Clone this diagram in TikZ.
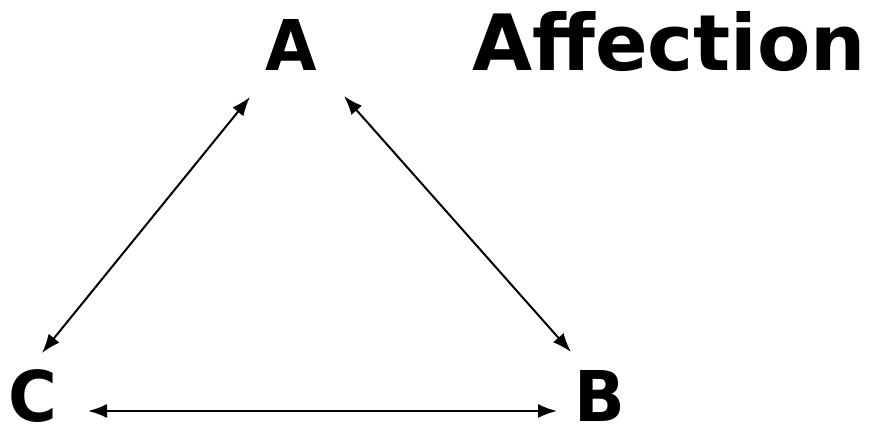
\documentclass[tikz,border=0pt]{standalone}
\usepackage{fontspec}
\setmainfont{DejaVu Sans}
\usetikzlibrary{arrows.meta}
\tikzset{
  lbl/.style={font=\fontsize{70}{70}\selectfont\bfseries, inner sep=0pt, anchor=base},
  link/.style={line width=2pt, {Latex[length=19pt,width=14pt]}-{Latex[length=19pt,width=14pt]}}
}
\begin{document}
\begin{tikzpicture}[x=1pt,y=-1pt]
\useasboundingbox (0,0) rectangle (875,435);
\node[lbl] (A) at (291,71) {\scalebox{0.95}[1]{A}};
\node[lbl, anchor=base west] (F) at (472,71) {\resizebox{394pt}{!}{Affection}};
\node[lbl] (C) at (33,421) {\scalebox{0.95}[1]{C}};
\node[lbl] (B) at (600,421) {\scalebox{0.95}[1]{B}};
\coordinate (a1) at (250,97);
\coordinate (c1) at (42,353);
\coordinate (a2) at (344,96);
\coordinate (b1) at (571,352);
\coordinate (c2) at (88,411);
\coordinate (b2) at (557,411);
\draw[link] (a1) -- (c1);
\draw[link] (a2) -- (b1);
\draw[link] (c2) -- (b2);
\end{tikzpicture}
\end{document}
